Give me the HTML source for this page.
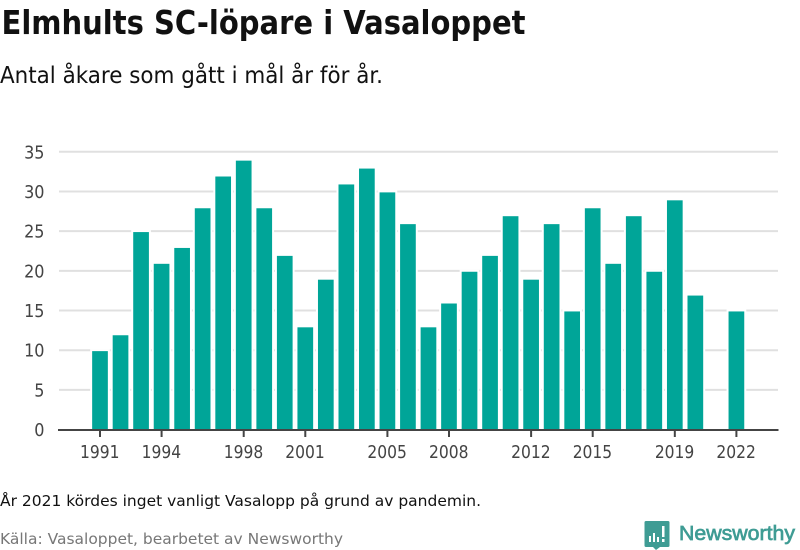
<!DOCTYPE html>
<html lang="sv">
<head>
<meta charset="utf-8">
<title>Elmhults SC-löpare i Vasaloppet</title>
<style>
html,body{margin:0;padding:0;background:#fff;}
svg{display:block;}
text{font-family:"DejaVu Sans","Liberation Sans",sans-serif;}
</style>
</head>
<body>
<svg id="chart" width="800" height="550" viewBox="0 0 800 550" xmlns="http://www.w3.org/2000/svg">
<text x="1.500" y="34" font-size="33" font-weight="700" fill="#111" textLength="524" lengthAdjust="spacingAndGlyphs">Elmhults SC-löpare i Vasaloppet</text>
<text x="0" y="83" font-size="23.500" fill="#111" textLength="383" lengthAdjust="spacingAndGlyphs">Antal åkare som gått i mål år för år.</text>
<g id="grid"></g>
<g id="bars"></g>
<g id="axes"></g>
<text x="0" y="506" font-size="15.500" fill="#111" textLength="481" lengthAdjust="spacingAndGlyphs">År 2021 kördes inget vanligt Vasalopp på grund av pandemin.</text>
<text x="0" y="544" font-size="15.500" fill="#777" textLength="343" lengthAdjust="spacingAndGlyphs">Källa: Vasaloppet, bearbetet av Newsworthy</text>
<g>
<path d="M646 521h22a1.500 1.500 0 0 1 1.500 1.500v23a1.500 1.500 0 0 1-1.500 1.500h-8l-4 3-3-3h-7a1.500 1.500 0 0 1-1.500-1.500v-23a1.500 1.500 0 0 1 1.500-1.500z" fill="#3f9c94"/>
<rect x="649" y="536" width="2" height="6" fill="#fff"/>
<rect x="653" y="533" width="2" height="9" fill="#fff"/>
<rect x="657" y="537" width="2" height="5" fill="#fff"/>
<rect x="662" y="526" width="2.500" height="11" fill="#fff"/>
<rect x="662" y="539" width="2.500" height="3" fill="#fff"/>
<text x="679" y="540" font-size="20.500" fill="#3f9c94" stroke="#3f9c94" stroke-width="0.700" textLength="116" lengthAdjust="spacingAndGlyphs" style="font-family:'Liberation Sans',sans-serif">Newsworthy</text>
</g>
</svg>
<script>
var years = [1991,1992,1993,1994,1995,1996,1997,1998,1999,2000,2001,2002,2003,2004,2005,2006,2007,2008,2009,2010,2011,2012,2013,2014,2015,2016,2017,2018,2019,2020,2021,2022];
var finishers = [10,12,25,21,23,28,32,34,28,22,13,19,31,33,30,26,13,16,20,22,27,19,26,15,28,21,27,20,29,17,null,15];
var yTicks = [0,5,10,15,20,25,30,35];
var xTickLabels = [1991,1994,1998,2001,2005,2008,2012,2015,2019,2022];

var NS = 'http://www.w3.org/2000/svg';
function xScale(year){ return 100 + (year - 1991) * (736.4 - 100) / 31; }
function yScale(v){ return 429.6 - v * (429.6 - 151.8) / 35; }
function make(tag, attrs, parent){
  var el = document.createElementNS(NS, tag);
  for (var k in attrs) el.setAttribute(k, attrs[k]);
  parent.appendChild(el);
  return el;
}
var gridG = document.getElementById('grid');
var barsG = document.getElementById('bars');
var axesG = document.getElementById('axes');

yTicks.forEach(function(t){
  var y = yScale(t);
  if (t !== 0) {
    var line = make('line', {x1:59, x2:778, y1:y, y2:y, stroke:'#e0e0e0', 'stroke-width':2}, gridG);
    
    
  }
  var label = make('text', {x:44.500, y:y + 6.500, 'text-anchor':'end', 'font-size':17.500, fill:'#444', textLength:String(t).length * 10.2, lengthAdjust:'spacingAndGlyphs'}, axesG);
  
  
  label.textContent = t;
});

var barWidth = 15.700;
var topInset = 0.900;
years.forEach(function(year, i){
  var v = finishers[i];
  if (v === null) return;
  var y = yScale(v) + topInset;
  var halo = make('rect', {x:xScale(year) - barWidth / 2 - 2, y:y - 2, width:barWidth + 4, height:430 - y + 2, fill:'#fff'}, barsG);
  
  
  var bar = make('rect', {x:xScale(year) - barWidth / 2, y:y, width:barWidth, height:430 - y, fill:'#00a598'}, barsG);
  
  
});

var axisLine = make('line', {x1:58, x2:778.500, y1:430, y2:430, stroke:'#444', 'stroke-width':2}, axesG);



xTickLabels.forEach(function(year){
  var x = xScale(year);
  var tick = make('line', {x1:x, x2:x, y1:430, y2:437, stroke:'#444', 'stroke-width':2}, axesG);
  
  
  var label = make('text', {x:x - 20, y:458, 'font-size':17.500, fill:'#444', textLength:39.500, lengthAdjust:'spacingAndGlyphs'}, axesG);
  
  
  label.textContent = year;
});
</script>
</body>
</html>
